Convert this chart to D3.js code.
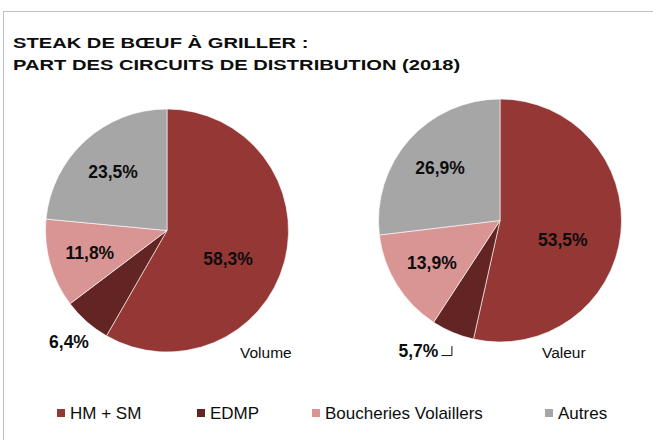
<!DOCTYPE html>
<html>
<head>
<meta charset="utf-8">
<script src="https://cdn.jsdelivr.net/npm/d3@7"></script>
<style>
  body { margin: 0; background: #fff; }
  text { font-family: "Liberation Sans", Arial, sans-serif; fill: #0d0d0d; }
</style>
</head>
<body>
<div id="chart"></div>
<script>
// categories and values (percent)
var categories = ["HM + SM", "EDMP", "Boucheries Volaillers", "Autres"];
var volumeValues = [58.3, 6.4, 11.8, 23.5];
var valeurValues = [53.5, 5.7, 13.9, 26.9];
var pieNames = ["Volume", "Valeur"];
var titleLines = ["STEAK DE BŒUF À GRILLER :", "PART DES CIRCUITS DE DISTRIBUTION (2018)"];

var colors = ["#953735", "#632523", "#d99594", "#a6a6a6"];

var width = 653, height = 440;

var svg = d3.select("#chart")
    .append("svg")
    .attr("width", width)
    .attr("height", height);

// frame
svg.append("rect")
    .attr("x", 3.5)
    .attr("y", 11.5)
    .attr("width", 700)
    .attr("height", 500)
    .attr("fill", "none")
    .attr("stroke", "#bfbfbf")
    .attr("stroke-width", 1);

// title
svg.append("g")
    .attr("transform", "translate(13,0) scale(1.3,1)")
    .selectAll("text")
    .data(titleLines)
    .enter()
    .append("text")
    .attr("x", 0)
    .attr("y", function (d, i) { return 48 + i * 22; })
    .style("font-size", "15.5px")
    .style("font-weight", "bold")
    .text(function (d) { return d; });

var color = d3.scaleOrdinal().domain(categories).range(colors);

var pie = d3.pie().sort(null).value(function (d) { return d.value; });
var radius = 121.5;
var arc = d3.arc().innerRadius(0).outerRadius(radius);

function fmt(v) { return d3.format(".1f")(v).replace(".", ",") + "%"; }

function labelFactor(v) {
    if (v > 50) return 0.52;
    if (v < 8) return 1.22;
    return 0.66;
}

function drawPie(values, cx, cy, name, nameX, withLeader) {
    var data = categories.map(function (c, i) { return { cat: c, value: values[i] }; });
    var arcs = pie(data);
    var g = svg.append("g").attr("transform", "translate(" + cx + "," + cy + ")");

    g.selectAll("path")
        .data(arcs)
        .enter()
        .append("path")
        .attr("d", arc)
        .attr("fill", function (d) { return color(d.data.cat); })
        .attr("stroke", "#fff")
        .attr("stroke-width", 0.6);

    function labelPos(d) {
        var r = radius * labelFactor(d.data.value);
        var c = d3.arc().innerRadius(r).outerRadius(r).centroid(d);
        // big slice label sits a bit lower, as in the source
        if (d.data.value > 50) c[1] += 12;
        // small label with leader is pushed left of it
        if (withLeader && d.data.value < 8) { c[0] -= 24; c[1] -= 6; }
        return c;
    }

    g.selectAll("text.lbl")
        .data(arcs)
        .enter()
        .append("text")
        .attr("class", "lbl")
        .attr("transform", function (d) {
            var c = labelPos(d);
            return "translate(" + c[0] + "," + c[1] + ")";
        })
        .attr("text-anchor", "middle")
        .attr("dy", "0.36em")
        .style("font-size", "17.5px")
        .style("font-weight", "bold")
        .text(function (d) { return fmt(d.data.value); });

    if (withLeader) {
        var small = arcs.filter(function (d) { return d.data.value < 8; })[0];
        var c = labelPos(small);
        g.append("path")
            .attr("d", d3.line()([[c[0] + 23, c[1] + 4.5], [c[0] + 33.5, c[1] + 4.5], [c[0] + 33.5, c[1] - 5]]))
            .attr("fill", "none")
            .attr("stroke", "#0d0d0d")
            .attr("stroke-width", 1);
    }

    g.append("text")
        .attr("x", nameX)
        .attr("y", 358 - cy)
        .style("font-size", "15.5px")
        .text(name);
}

drawPie(volumeValues, 167, 230.5, pieNames[0], 73, false);
drawPie(valeurValues, 500, 220.5, pieNames[1], 42, true);

// legend
var legendPos = [57, 197, 312, 545];
var legend = svg.append("g")
    .selectAll("g")
    .data(categories)
    .enter()
    .append("g")
    .attr("transform", function (d, i) { return "translate(" + legendPos[i] + ",409)"; });

legend.append("rect")
    .attr("width", 8)
    .attr("height", 8)
    .attr("fill", function (d) { return color(d); });

legend.append("text")
    .attr("x", 13)
    .attr("y", 10)
    .style("font-size", "17px")
    .text(function (d) { return d; });
</script>
</body>
</html>
